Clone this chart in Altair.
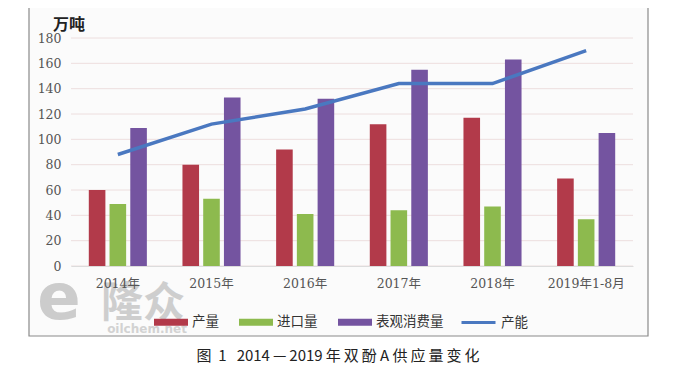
import altair as alt
import pandas as pd

categories = ["2014年", "2015年", "2016年", "2017年", "2018年", "2019年1-8月"]
production = [60, 80, 92, 112, 117, 69]
imports = [49, 53, 41, 44, 47, 37]
consumption = [109, 133, 132, 155, 163, 105]
capacity = [88, 112, 124, 144, 144, 170]
bar_series = ["产量", "进口量", "表观消费量"]
line_series = ["产能"]
bar_colors = ["#B23A4A", "#8DBA4E", "#7454A0"]
line_colors = ["#4A78C0"]
y_ticks = [0, 20, 40, 60, 80, 100, 120, 140, 160, 180]
unit_label = "万吨"
caption = ("图\u00a0\u00a01\u00a0\u00a0\u00a02014\u2009—\u20092019\u2009年\u2009双\u2009酚\u00a0A\u00a0"
           "供\u2009应\u2009量\u2009变\u2009化")

rows = []
for s, vals in zip(bar_series, [production, imports, consumption]):
    for c, v in zip(categories, vals):
        rows.append({"cat": c, "series": s, "value": v})
bars_df = pd.DataFrame(rows)
line_df = pd.DataFrame({"cat": categories, "series": line_series[0], "value": capacity})
grid_df = pd.DataFrame({"tick": y_ticks})
one = pd.DataFrame({"a": [0]})

W, H = 562, 228
SERIF = "'DejaVu Serif', 'Noto Sans CJK SC'"
SANS = "'Noto Sans CJK SC', 'Noto Sans'"
BAR_SYMBOL = "M-1,-0.2H1V0.2H-1Z"

yscale = alt.Scale(domain=[0, 180], nice=False)
xscale = alt.Scale(paddingInner=0.38, paddingOuter=0.19)
yaxis = alt.Axis(values=y_ticks, grid=False, domain=False, ticks=False, zindex=1,
                 labelOverlap=False, labelBound=False,
                 labelFont=SERIF, labelFontSize=12.5, labelColor="#555555",
                 labelPadding=10, title=None)

frame = alt.Chart(one).mark_rect(fill="#fbfbfb", stroke="#8a8a8a", strokeWidth=1.2).encode(
    x=alt.value(-42), x2=alt.value(577), y=alt.value(-31), y2=alt.value(298)
)

grid = alt.Chart(grid_df).mark_rule(color="#eddede", strokeWidth=1).encode(
    y=alt.Y("tick:Q", scale=yscale, axis=yaxis)
)

bars = alt.Chart(bars_df).mark_bar().encode(
    x=alt.X("cat:N", sort=categories, scale=xscale,
            axis=alt.Axis(title=None, labelAngle=0, ticks=False, domain=True, zindex=1,
                          labelOverlap=False,
                          domainColor="#dcdcdc", labelFont=SERIF, labelFontSize=12.5,
                          labelColor="#555555", labelPadding=11)),
    xOffset=alt.XOffset("series:N", sort=bar_series, scale=alt.Scale(paddingInner=0.2)),
    y=alt.Y("value:Q", scale=yscale, axis=yaxis),
    color=alt.Color("series:N", sort=bar_series,
                    scale=alt.Scale(domain=bar_series, range=bar_colors),
                    legend=alt.Legend(title=None, orient="none", direction="horizontal",
                                      legendX=82, legendY=266, symbolType=BAR_SYMBOL,
                                      symbolSize=1156, symbolOpacity=1,
                                      labelFont=SANS, labelFontSize=13.5, labelColor="#333333",
                                      columnPadding=19, labelOffset=3)),
)

line = alt.Chart(line_df).mark_line(strokeWidth=3.5).encode(
    x=alt.X("cat:N", sort=categories, scale=xscale),
    y=alt.Y("value:Q", scale=yscale, axis=yaxis),
    color=alt.Color("series:N", scale=alt.Scale(domain=line_series, range=line_colors),
                    legend=alt.Legend(title=None, orient="none", direction="horizontal",
                                      legendX=389, legendY=266, symbolType="stroke",
                                      symbolSize=1156, symbolStrokeWidth=3,
                                      labelFont=SANS, labelFontSize=13.5, labelColor="#333333",
                                      labelOffset=4)),
)

unit = alt.Chart(pd.DataFrame({"t": [unit_label]})).mark_text(
    font=SANS, fontSize=16, fontWeight="bold", color="#222222", align="center", baseline="middle"
).encode(x=alt.value(-2), y=alt.value(-13), text="t:N")

cap = alt.Chart(pd.DataFrame({"t": [caption]})).mark_text(
    font=SANS, fontSize=15, color="#222222", align="center", baseline="middle"
).encode(x=alt.value(267), y=alt.value(318), text="t:N")

wm_logo = alt.Chart(pd.DataFrame({"t": ["e"]})).mark_text(
    font="DejaVu Sans", fontSize=64, fontWeight="bold", color="#c4c4c4", opacity=0.85,
    align="center", baseline="middle"
).encode(x=alt.value(-12), y=alt.value(262), text="t:N")

wm_name = alt.Chart(pd.DataFrame({"t": ["隆众"]})).mark_text(
    font=SANS, fontSize=42, fontWeight="bold", color="#c4c4c4", opacity=0.8,
    align="center", baseline="middle"
).encode(x=alt.value(72), y=alt.value(266), text="t:N")

wm_url = alt.Chart(pd.DataFrame({"t": ["oilchem.net"]})).mark_text(
    font="DejaVu Sans", fontSize=12, fontWeight="bold", color="#cccccc", opacity=0.85,
    align="center", baseline="middle"
).encode(x=alt.value(76), y=alt.value(291), text="t:N")

chart = alt.layer(frame, grid, bars, line, unit, cap, wm_logo, wm_name, wm_url).resolve_scale(
    color="independent"
).properties(
    width=W, height=H,
    padding={"left": 63, "top": 30, "right": 33, "bottom": 99},
    autosize=alt.AutoSizeParams(type="none"),
    background="white",
).configure_view(stroke=None).configure_axis(labelOverlap=False)

chart.save("out.html", embed_options={"renderer": "svg", "actions": False})
